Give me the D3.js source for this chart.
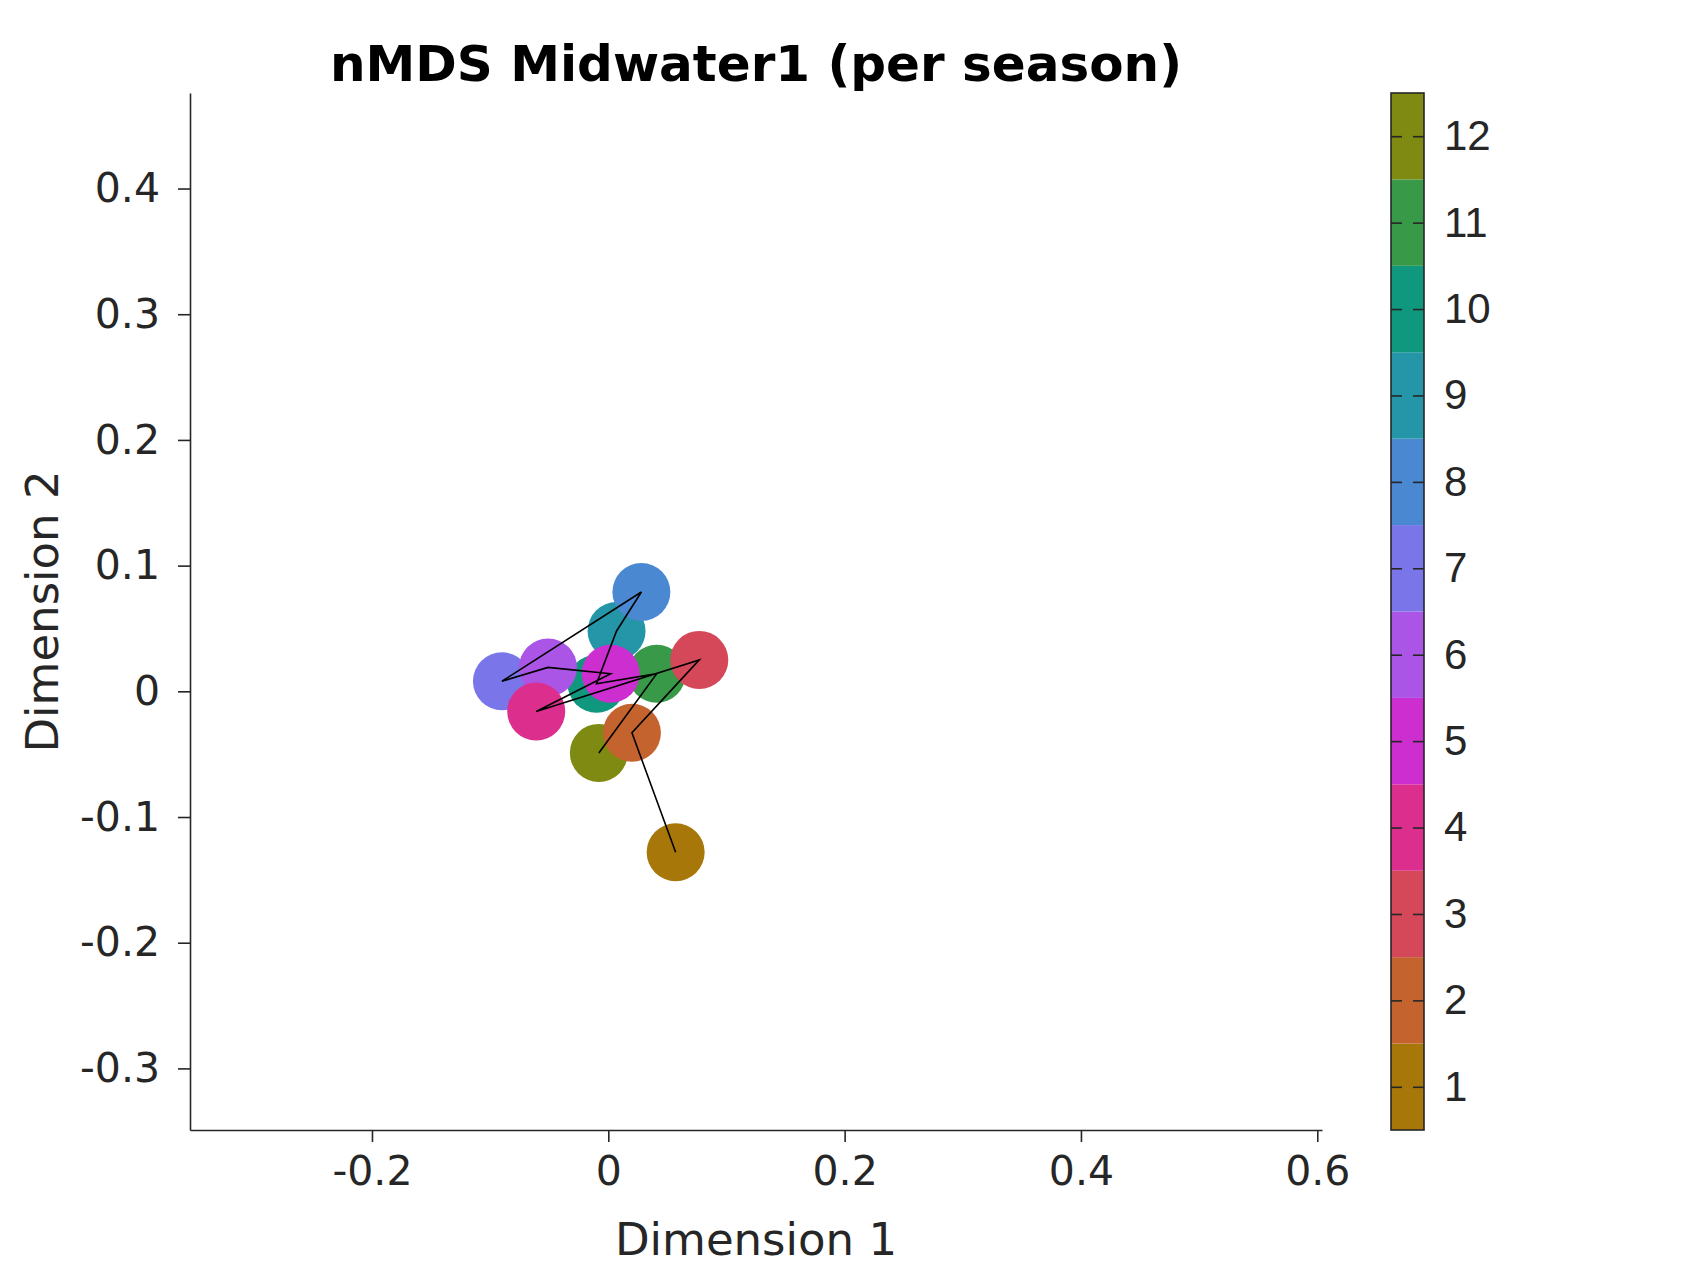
<!DOCTYPE html>
<html lang="en">
    <head>
        <meta charset="utf-8">
        <title>nMDS Midwater1</title>
        <script type="text/javascript" src="https://d3js.org/d3.v7.min.js"></script>
        <style>
            body { margin: 0; background: #fff; }
        </style>
    </head>
    <body>
        <div class="nmds-plot"></div>
        <script type="text/javascript">
            // one point per month (1..12)
            var months = [1, 2, 3, 4, 5, 6, 7, 8, 9, 10, 11, 12];
            var dim1 = [0.057, 0.020, 0.077, -0.061, 0.002, -0.051, -0.090, 0.028, 0.007, -0.010, 0.041, -0.008];
            var dim2 = [-0.128, -0.033, 0.025, -0.016, 0.014, 0.019, 0.008, 0.079, 0.048, 0.006, 0.014, -0.049];
            var monthColors = ['#a8770a', '#c4632e', '#d5485a', '#dc2e8c', '#cd2ecf', '#aa55e6',
                               '#7a76ea', '#4a89d2', '#2595a8', '#10987e', '#389a48', '#7e8a12'];
            var xTicks = [-0.2, 0, 0.2, 0.4, 0.6];
            var yTicks = [-0.3, -0.2, -0.1, 0, 0.1, 0.2, 0.3, 0.4];
            var xLimits = [-0.354, 0.604];
            var yLimits = [-0.349, 0.476];

            const width = 1697;
            const height = 1273;
            const plotLeft = 190, plotRight = 1322, plotTop = 93, plotBottom = 1130;
            const ink = '#262626';

            var points = months.map((m, i) => ({month: m, x: dim1[i], y: dim2[i]}));

            const svg = d3.select('.nmds-plot')
                .append('svg')
                .attr('width', width)
                .attr('height', height);

            var x = d3.scaleLinear().domain(xLimits).range([plotLeft, plotRight]);
            var y = d3.scaleLinear().domain(yLimits).range([plotBottom, plotTop]);
            var color = d3.scaleOrdinal().domain(months).range(monthColors);
            var fmt = d => d === 0 ? '0' : String(+d.toFixed(1));

            // circles, month 1 ends up on top
            svg.selectAll('circle.pt')
                .data(points.slice().reverse())
                .enter()
                .append('circle')
                .attr('class', 'pt')
                .attr('cx', d => x(d.x))
                .attr('cy', d => y(d.y))
                .attr('r', 29)
                .attr('fill', d => color(d.month));

            // path through the months in order
            svg.append('path')
                .datum(points)
                .attr('fill', 'none')
                .attr('stroke', '#000')
                .attr('stroke-width', 1.6)
                .attr('d', d3.line().x(d => x(d.x)).y(d => y(d.y)));

            var xAxis = svg.append('g')
                .attr('transform', 'translate(0,' + plotBottom + ')')
                .call(d3.axisBottom(x).tickValues(xTicks).tickFormat(fmt).tickSize(12).tickPadding(14).tickSizeOuter(0));

            var yAxis = svg.append('g')
                .attr('transform', 'translate(' + plotLeft + ',0)')
                .call(d3.axisLeft(y).tickValues(yTicks).tickFormat(fmt).tickSize(12).tickPadding(18).tickSizeOuter(0));

            [xAxis, yAxis].forEach(g => {
                g.select('.domain').attr('stroke', ink).attr('stroke-width', 1.6);
                g.selectAll('.tick line').attr('stroke', ink).attr('stroke-width', 1.6);
                g.selectAll('.tick text')
                    .attr('fill', ink)
                    .attr('font-family', 'DejaVu Sans')
                    .attr('font-size', 41);
            });

            // colorbar
            const cbLeft = 1391, cbRight = 1424;
            var cb = d3.scaleLinear().domain([0.5, 12.5]).range([plotBottom, plotTop]);

            svg.selectAll('rect.band')
                .data(months)
                .enter()
                .append('rect')
                .attr('class', 'band')
                .attr('x', cbLeft)
                .attr('y', d => cb(d + 0.5))
                .attr('width', cbRight - cbLeft)
                .attr('height', d => cb(d - 0.5) - cb(d + 0.5))
                .attr('fill', d => color(d));

            var cbAxis = svg.append('g')
                .attr('transform', 'translate(' + cbRight + ',0)')
                .call(d3.axisRight(cb).tickValues(months).tickSize(-11).tickPadding(20).tickSizeOuter(0));
            var cbAxisL = svg.append('g')
                .attr('transform', 'translate(' + cbLeft + ',0)')
                .call(d3.axisLeft(cb).tickValues(months).tickFormat('').tickSize(-11).tickSizeOuter(0));

            [cbAxis, cbAxisL].forEach(g => {
                g.select('.domain').remove();
                g.selectAll('.tick line').attr('stroke', ink).attr('stroke-width', 1.6);
            });
            cbAxis.selectAll('.tick text')
                .attr('fill', ink)
                .attr('font-family', 'Liberation Sans')
                .attr('font-size', 42);

            svg.append('rect')
                .attr('x', cbLeft)
                .attr('y', plotTop)
                .attr('width', cbRight - cbLeft)
                .attr('height', plotBottom - plotTop)
                .attr('fill', 'none')
                .attr('stroke', ink)
                .attr('stroke-width', 1.6);

            // labels
            svg.append('text')
                .attr('x', (plotLeft + plotRight) / 2)
                .attr('y', 81)
                .attr('text-anchor', 'middle')
                .attr('font-family', 'DejaVu Sans')
                .attr('font-weight', 'bold')
                .attr('font-size', 50)
                .attr('fill', '#000')
                .text('nMDS Midwater1 (per season)');

            svg.append('text')
                .attr('x', (plotLeft + plotRight) / 2)
                .attr('y', 1255)
                .attr('text-anchor', 'middle')
                .attr('font-family', 'DejaVu Sans')
                .attr('font-size', 45)
                .attr('fill', ink)
                .text('Dimension 1');

            svg.append('text')
                .attr('transform', 'translate(58,' + (plotTop + plotBottom) / 2 + ') rotate(-90)')
                .attr('text-anchor', 'middle')
                .attr('font-family', 'DejaVu Sans')
                .attr('font-size', 45)
                .attr('fill', ink)
                .text('Dimension 2');
        </script>
    </body>
</html>
